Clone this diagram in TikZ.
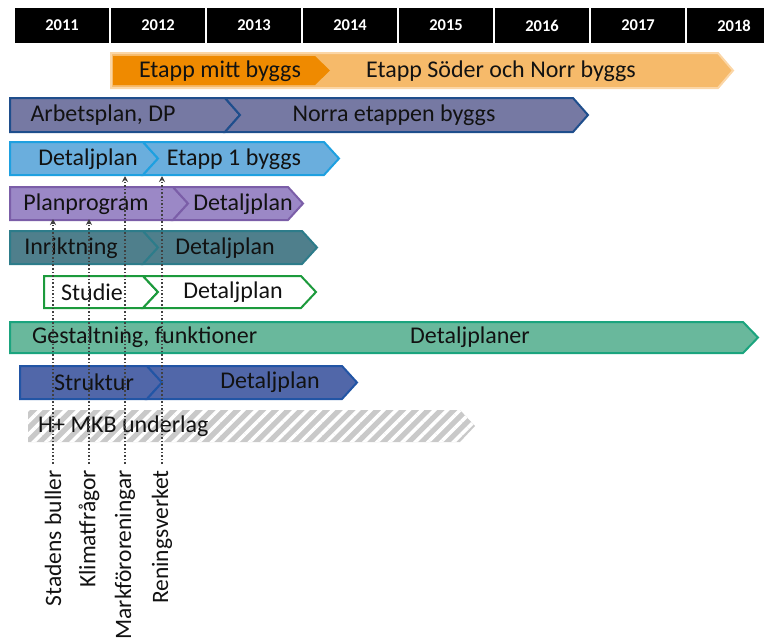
\documentclass[tikz,border=0pt]{standalone}
\usepackage{fontspec}
\setmainfont{Carlito}
\usetikzlibrary{calc,patterns.meta,arrows.meta}
\definecolor{etappdark}{HTML}{EF8A00}
\definecolor{etapplight}{HTML}{F6BA6A}
\definecolor{etappline}{HTML}{FBD6A6}
\definecolor{arbfill}{HTML}{7679A3}
\definecolor{arbline}{HTML}{1F4E8C}
\definecolor{detfill}{HTML}{6AAEDD}
\definecolor{detline}{HTML}{1EA0E0}
\definecolor{planfill}{HTML}{9B88C6}
\definecolor{planline}{HTML}{7B5EA8}
\definecolor{inrfill}{HTML}{4F7F8C}
\definecolor{inrline}{HTML}{2D7C8A}
\definecolor{studline}{HTML}{1C9A3C}
\definecolor{gestfill}{HTML}{69B89C}
\definecolor{gestline}{HTML}{1BA47E}
\definecolor{strfill}{HTML}{5167A9}
\definecolor{strline}{HTML}{2255A5}
\definecolor{mkbfill}{HTML}{C9C9C9}
\def\tip{15}
% pentagon: flat start, pointed end
\def\pentbar[#1](#2:#3:#4:#5){\draw[#1] (#2,#4) -- (#3,#4) -- ({#3+\tip},{(#4+#5)/2}) -- (#3,#5) -- (#2,#5) -- cycle;}
% chevron: notched start, pointed end
\def\chevbar[#1](#2:#3:#4:#5){\draw[#1] (#2,#4) -- (#3,#4) -- ({#3+\tip},{(#4+#5)/2}) -- (#3,#5) -- (#2,#5) -- ({#2+\tip},{(#4+#5)/2}) -- cycle;}
\tikzset{
  yearbox/.style={fill=black, text=white, minimum width=94pt, minimum height=35pt, inner sep=0pt, font=\fontsize{16.5}{19}\selectfont\bfseries},
  bartext/.style={text=black!93, inner sep=0pt, font=\fontsize{24}{28}\selectfont},
  vlabel/.style={rotate=90, anchor=east, inner sep=0pt, text=black!93, font=\fontsize{23.5}{27}\selectfont},
  dotarrow/.style={dotted, line width=1.6pt, black!75, -{Stealth[length=6pt,width=6pt]}}
}
\begin{document}
\begin{tikzpicture}[x=1pt,y=-1pt]
  \useasboundingbox (0,0) rectangle (764,641);
  \clip (0,0) rectangle (764,641);

  %%%%% years %%%%%
  \foreach \yr [count=\i from 0] in {2011,...,2018}
    \node[yearbox] (y\yr) at ({62+96*\i},25.5) {\yr};

  %%%%% bars %%%%%
  \pentbar[fill=etapplight, draw=etappline, line width=2pt](111:718:53:88);
  \pentbar[fill=etappdark, draw=none](113:315:56:85);
  \node[bartext] (mitt) at (220,71) {Etapp mitt byggs};
  \node[bartext] (soder) at (501,71) {Etapp Söder och Norr byggs};

  \pentbar[fill=arbfill, draw=arbline, line width=2pt](10:225:98:132);
  \chevbar[fill=arbfill, draw=arbline, line width=2pt](225:573:98:132);
  \node[bartext] (arb) at (103,115) {Arbetsplan, DP};
  \node[bartext] (norra) at (394,115) {Norra etappen byggs};

  \pentbar[fill=detfill, draw=detline, line width=2pt](10:143:142:175);
  \chevbar[fill=detfill, draw=detline, line width=2pt](143:324:142:175);
  \node[bartext] (det1) at (88,159) {Detaljplan};
  \node[bartext] (etapp1) at (234,159) {Etapp 1 byggs};

  \pentbar[fill=planfill, draw=planline, line width=2pt](10:173:187:220);
  \chevbar[fill=planfill, draw=planline, line width=2pt](173:288:187:220);
  \node[bartext] (plan) at (86,204) {Planprogram};
  \node[bartext] (det2) at (243,204) {Detaljplan};

  \pentbar[fill=inrfill, draw=inrline, line width=2pt](10:143:231:264);
  \chevbar[fill=inrfill, draw=inrline, line width=2pt](143:302:231:264);
  \node[bartext] (inr) at (71,248) {Inriktning};
  \node[bartext] (det3) at (225,248) {Detaljplan};

  \pentbar[fill=white, draw=studline, line width=2pt](44:143:276:308);
  \chevbar[fill=white, draw=studline, line width=2pt](143:301:276:308);
  \node[bartext] (stud) at (92,292) {Studie};
  \node[bartext] (det4) at (233,292) {Detaljplan};

  \pentbar[fill=gestfill, draw=gestline, line width=2pt](10:743:322:353);
  \node[bartext, anchor=west] (gest) at (32,337) {Gestaltning, funktioner};
  \node[bartext] (det5) at (470,337) {Detaljplaner};

  \pentbar[fill=strfill, draw=strline, line width=2pt](20:147:366:399);
  \chevbar[fill=strfill, draw=strline, line width=2pt](147:342:366:399);
  \node[bartext] (str) at (94,382) {Struktur};
  \node[bartext] (det6) at (270,382) {Detaljplan};

  \pentbar[fill=mkbfill, draw=none, postaction={pattern={Lines[angle=45,distance=9pt,line width=3.5pt]}, pattern color=white}](28:460:410:442);
  \node[bartext, anchor=west] (mkb) at (38,426) {H+ MKB underlag};

  %%%%% topics %%%%%
  \node[vlabel] (buller) at (53,470) {Stadens buller};
  \node[vlabel] (klimat) at (89,470) {Klimatfrågor};
  \node[vlabel] (mark) at (125,470) {Markföroreningar};
  \node[vlabel] (rening) at (162,470) {Reningsverket};

  \coordinate (bullerend) at (53,219);
  \coordinate (klimatend) at (89,219);
  \coordinate (markend) at (125,176);
  \coordinate (reningend) at (162,176);

  \draw[dotarrow] ($(buller.east)+(0,-6)$) -- (bullerend);
  \draw[dotarrow] ($(klimat.east)+(0,-6)$) -- (klimatend);
  \draw[dotarrow] ($(mark.east)+(0,-6)$) -- (markend);
  \draw[dotarrow] ($(rening.east)+(0,-6)$) -- (reningend);
\end{tikzpicture}
\end{document}
